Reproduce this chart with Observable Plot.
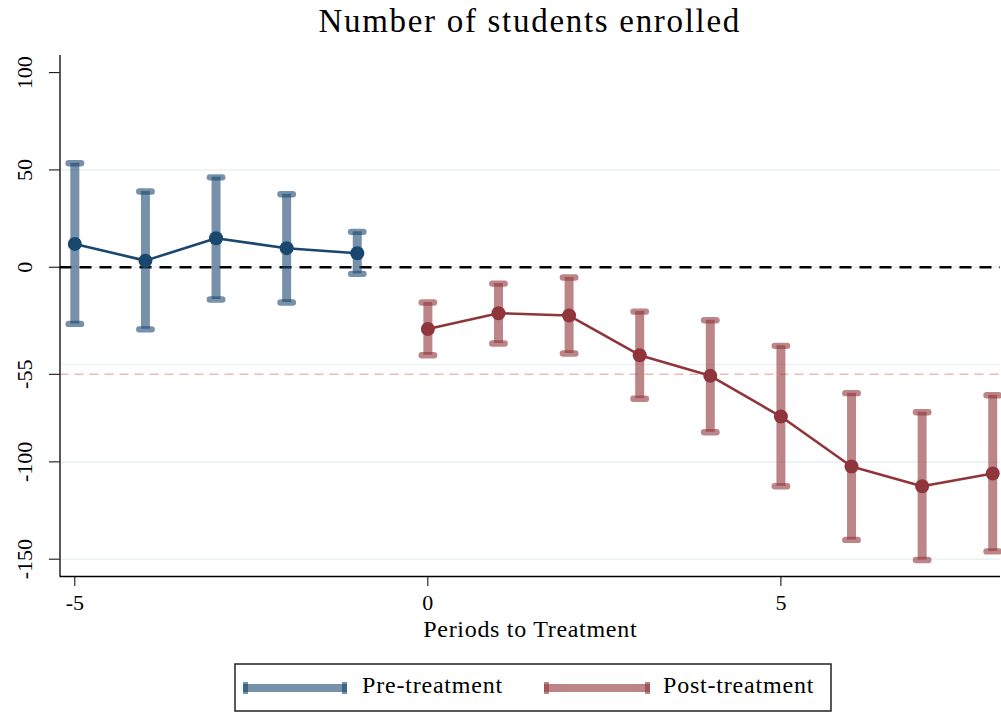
<!DOCTYPE html>
<html><head><meta charset="utf-8">
<script src="https://cdn.jsdelivr.net/npm/d3@7"></script>
<script src="https://cdn.jsdelivr.net/npm/@observablehq/plot@0.6"></script>
<style>
body{margin:0;background:#fff;font-family:"Liberation Serif",serif;}
#wrap{position:relative;width:1001px;height:713px;overflow:hidden;background:#fff;}
#title{position:absolute;left:59.5px;width:940.5px;top:-3px;height:48px;text-align:center;font-size:33px;line-height:48px;color:#000;letter-spacing:1.7px;white-space:nowrap;}
#chart{position:absolute;left:0;top:48px;}
#chart svg text{font-family:"Liberation Serif",serif;}
#legend{position:absolute;left:0;top:0;}
</style></head><body>
<div id="wrap"><div id="title">Number of students enrolled</div><div id="chart"></div>
<svg id="legend" width="1001" height="713"></svg></div>
<script>
// ---- data ----
const prePeriods = [-5, -4, -3, -2, -1];
const preEst = [12.0, 3.4, 14.9, 9.8, 7.2];
const preLo = [-29.1, -31.9, -16.6, -18.1, -3.4];
const preHi = [53.4, 38.9, 46.2, 37.5, 18.2];
const postPeriods = [0, 1, 2, 3, 4, 5, 6, 7, 8];
const postEst = [-31.7, -23.6, -24.8, -45.2, -55.8, -76.7, -102.4, -112.5, -106.0];
const postLo = [-45.2, -39.2, -44.3, -67.6, -84.8, -112.5, -140.1, -150.4, -146.0];
const postHi = [-18.1, -8.4, -5.3, -22.8, -27.2, -40.4, -64.7, -74.5, -65.8];
const xTicks = [-5, 0, 5];
const yTicks = [100, 50, 0, -55, -100, -150];
const gridValues = [50, 0, -50, -100, -150];
const refLine = -55;
const xDomain = [-5.21, 8.11];
const yDomain = [-158.9, 108.8];
const seriesNames = ["Pre-treatment", "Post-treatment"];
const xLabel = "Periods to Treatment";

const navy = "#1a476f", maroon = "#90353b";
const serif = '"Liberation Serif", serif';
const pre = prePeriods.map((p, i) => ({x: p, est: preEst[i], lo: preLo[i], hi: preHi[i]}));
const post = postPeriods.map((p, i) => ({x: p, est: postEst[i], lo: postLo[i], hi: postHi[i]}));

const capSymbol = {
  draw(ctx) {
    const w = 6.2, h = 3.2;
    ctx.moveTo(-w, -h); ctx.lineTo(w, -h);
    ctx.arc(w, 0, h, -Math.PI / 2, Math.PI / 2);
    ctx.lineTo(-w, h);
    ctx.arc(-w, 0, h, Math.PI / 2, 3 * Math.PI / 2);
    ctx.closePath();
  }
};

function seriesMarks(data, color) {
  return [
    Plot.ruleX(data, {x: "x", y1: "lo", y2: "hi", stroke: color, strokeOpacity: 0.6, strokeWidth: 9}),
    Plot.dot(data, {x: "x", y: "hi", symbol: capSymbol, fill: color, fillOpacity: 0.6, stroke: "none"}),
    Plot.dot(data, {x: "x", y: "lo", symbol: capSymbol, fill: color, fillOpacity: 0.6, stroke: "none"}),
    Plot.line(data, {x: "x", y: "est", stroke: color, strokeWidth: 2.6}),
    Plot.dot(data, {x: "x", y: "est", r: 7, fill: color, stroke: "none"})
  ];
}

const chart = Plot.plot({
  width: 1001, height: 615,
  marginLeft: 59.5, marginRight: 1, marginTop: 7, marginBottom: 87,
  x: {domain: xDomain},
  y: {domain: yDomain},
  style: {fontFamily: serif, fontSize: "22px", color: "#000", background: "white"},
  marks: [
    Plot.ruleY(gridValues, {stroke: "#eaf2f3", strokeWidth: 1.6}),
    Plot.ruleY([refLine], {stroke: "#f2b8b8", strokeWidth: 1.5, strokeDasharray: "9,6"}),
    Plot.ruleY([0], {stroke: "black", strokeWidth: 2.4, strokeDasharray: "12,8"}),
    ...seriesMarks(pre, navy),
    ...seriesMarks(post, maroon),
    Plot.ruleX([xDomain[0]], {stroke: "black", strokeWidth: 1.3}),
    Plot.ruleY([yDomain[0]], {stroke: "black", strokeWidth: 1.3}),
    Plot.axisX({ticks: xTicks, tickSize: 10, tickPadding: 8, tickFormat: d => String(d), label: null, fontFamily: serif, fontVariant: "normal"}),
    Plot.axisY({ticks: yTicks, tickSize: 10.6, tickPadding: 17, tickRotate: -90, tickFormat: d => String(d), label: null, fontFamily: serif, fontVariant: "normal"}),
    Plot.text([xLabel], {frameAnchor: "bottom", dy: 60, lineAnchor: "bottom", fontSize: 24, fontFamily: serif, text: d => d})
  ]
});
document.getElementById("chart").appendChild(chart);
d3.select(chart).selectAll("text").filter(function() { return this.textContent === xLabel; })
  .attr("letter-spacing", "0.7px");

// ---- legend ----
const lg = d3.select("#legend");
lg.append("rect").attr("x", 235).attr("y", 664).attr("width", 596).attr("height", 47)
  .attr("fill", "none").attr("stroke", "#222").attr("stroke-width", 1.5);
const items = [
  {name: seriesNames[0], color: navy, x0: 243, x1: 347, tx: 362},
  {name: seriesNames[1], color: maroon, x0: 544, x1: 650, tx: 663}
];
items.forEach(it => {
  lg.append("rect").attr("x", it.x0).attr("y", 684).attr("width", it.x1 - it.x0).attr("height", 8)
    .attr("fill", it.color).attr("fill-opacity", 0.6);
  [it.x0, it.x1 - 5].forEach(cx => lg.append("rect").attr("x", cx).attr("y", 682).attr("width", 5).attr("height", 12)
    .attr("fill", it.color).attr("fill-opacity", 0.6));
  lg.append("text").attr("x", it.tx).attr("y", 693).attr("font-size", 24).attr("letter-spacing", "0.8px")
    .attr("font-family", serif).attr("fill", "#000").text(it.name);
});
</script>
</body></html>
